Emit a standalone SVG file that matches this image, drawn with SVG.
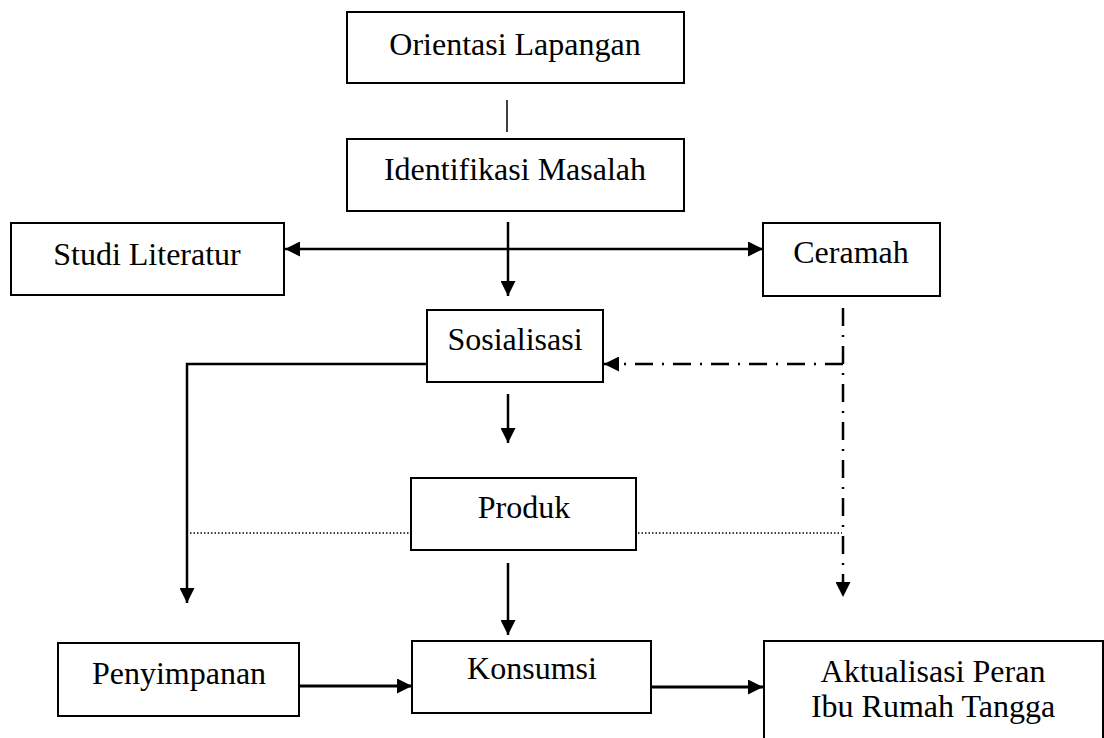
<svg xmlns="http://www.w3.org/2000/svg" width="1104" height="738" viewBox="0 0 1104 738">
<style>
.box{fill:#fff;stroke:#000;stroke-width:2}
.t{font-family:"Liberation Serif","Times New Roman",serif;font-size:32px;fill:#000;text-anchor:middle}
.ln{fill:none;stroke:#000;stroke-width:2.5}
.dd{fill:none;stroke:#000;stroke-width:2.5;stroke-dasharray:18 9 2 9}
.dot{fill:none;stroke:#000;stroke-width:1.3;stroke-dasharray:1.5 2}
</style>
<defs>
<marker id="ah" markerUnits="userSpaceOnUse" markerWidth="15" markerHeight="15" refX="15" refY="7.5" orient="auto-start-reverse"><path d="M0,0 L15,7.5 L0,15 z" fill="#000"/></marker>
</defs>
<g id="connectors">
<line class="ln" x1="507" y1="100" x2="507" y2="132" style="stroke-width:1.5"/>
<line class="ln" x1="508" y1="222" x2="508" y2="296" marker-end="url(#ah)"/>
<line class="ln" x1="285" y1="249" x2="763" y2="249" marker-start="url(#ah)" marker-end="url(#ah)"/>
<line class="ln" x1="508" y1="394" x2="508" y2="443" marker-end="url(#ah)"/>
<polyline class="ln" points="427,364 187,364 187,603" marker-end="url(#ah)"/>
<line class="ln" x1="508" y1="563" x2="508" y2="635" marker-end="url(#ah)"/>
<line class="ln" x1="299" y1="686" x2="412" y2="686" style="stroke-width:3" marker-end="url(#ah)"/>
<line class="ln" x1="651" y1="687" x2="763" y2="687" style="stroke-width:3" marker-end="url(#ah)"/>
<line class="dd" x1="843" y1="308" x2="843" y2="597" marker-end="url(#ah)"/>
<line class="dd" x1="843" y1="364" x2="604" y2="364" marker-end="url(#ah)"/>
<line class="dot" x1="190" y1="533" x2="411" y2="533"/>
<line class="dot" x1="638" y1="533" x2="842" y2="533"/>
</g>
<g id="orientasi"><rect class="box" x="347" y="12" width="337" height="71"/><text class="t" x="515" y="55">Orientasi Lapangan</text></g>
<g id="identifikasi"><rect class="box" x="347" y="139" width="337" height="72"/><text class="t" x="515" y="180">Identifikasi Masalah</text></g>
<g id="studi"><rect class="box" x="11" y="223" width="273" height="72"/><text class="t" x="147" y="265">Studi Literatur</text></g>
<g id="ceramah"><rect class="box" x="763" y="223" width="177" height="73"/><text class="t" x="851" y="263">Ceramah</text></g>
<g id="sosialisasi"><rect class="box" x="427" y="310" width="176" height="72"/><text class="t" x="515" y="350">Sosialisasi</text></g>
<g id="produk"><rect class="box" x="411" y="478" width="225" height="72"/><text class="t" x="524" y="518">Produk</text></g>
<g id="penyimpanan"><rect class="box" x="58" y="643" width="241" height="73"/><text class="t" x="179" y="684">Penyimpanan</text></g>
<g id="konsumsi"><rect class="box" x="412" y="641" width="239" height="72"/><text class="t" x="532" y="679">Konsumsi</text></g>
<g id="aktualisasi"><rect class="box" x="764" y="641" width="339" height="120"/><text class="t" x="933" y="682">Aktualisasi Peran</text><text class="t" x="933" y="717">Ibu Rumah Tangga</text></g>
</svg>
